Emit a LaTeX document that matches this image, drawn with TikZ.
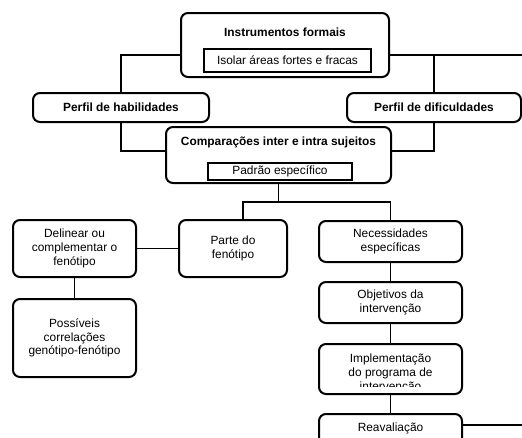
\documentclass[tikz,border=0pt]{standalone}
\usepackage{fontspec}
\setmainfont{Liberation Sans}
\begin{document}
\begin{tikzpicture}[x=1pt,y=-1pt,
  txt/.style={inner sep=0pt, align=center, font=\fontsize{11.9}{13.8}\selectfont},
  rbox/.style={txt, draw, line width=2pt, rounded corners=7pt},
  sbox/.style={txt, draw, line width=2pt},
  bt/.style={txt, font=\fontsize{11.9}{13.8}\selectfont\bfseries},
  conn/.style={line width=1.9pt}
]
\useasboundingbox (0,0) rectangle (522,437);
\clip (0,0) rectangle (522,437);

% top block
\node[rbox, minimum width=208pt, minimum height=64pt] (instr) at (285,45) {};
\node[bt] (instrT) at (285,32) {Instrumentos formais};
\node[sbox, minimum width=167pt, minimum height=23pt] (isolar) at (287.5,60.5) {Isolar áreas fortes e fracas};

\node[rbox, bt, draw, minimum width=176pt, minimum height=29pt] (hab) at (121,107.5) {Perfil de habilidades};
\node[rbox, bt, draw, minimum width=174pt, minimum height=29pt] (dif) at (434,107.5) {Perfil de dificuldades};

\node[rbox, minimum width=225pt, minimum height=56pt] (comp) at (278.5,155) {};
\node[bt] (compT) at (278.5,142) {Comparações inter e intra sujeitos};
\node[sbox, minimum width=144pt, minimum height=17pt] (padrao) at (280,171.5) {Padrão específico};

% lower left
\node[rbox, minimum width=108pt, minimum height=57pt] (parte) at (233,248.5) {Parte do\\fenótipo};
\node[rbox, minimum width=123pt, minimum height=57pt] (delin) at (74.5,248.5) {Delinear ou\\complementar o\\fenótipo};
\node[rbox, minimum width=123pt, minimum height=78pt] (poss) at (74.5,338) {Possíveis\\correlações\\genótipo-fenótipo};

% lower right
\node[rbox, minimum width=143pt, minimum height=41pt] (nec) at (390.5,241.5) {Necessidades\\específicas};
\node[rbox, minimum width=143pt, minimum height=41pt] (obj) at (390.5,302.5) {Objetivos da\\intervenção};
\node[rbox, minimum width=143pt, minimum height=50pt] (impl) at (390.5,369) {};
\begin{scope}
  \clip (320,345) rectangle (461,386.5);
  \node[txt] (implT) at (390.5,373.5) {Implementação\\do programa de\\intervenção};
\end{scope}
\node[rbox, minimum width=143pt, minimum height=52pt] (reav) at (390.5,440) {};
\node[txt] (reavT) at (390.5,428) {Reavaliação};

% connectors
\coordinate (rEnd) at (522,55);
\coordinate (j) at (278,203);
\coordinate (rEnd2) at (522,425);
\draw[conn] ([yshift=-10pt]instr.west) -| (hab.north);
\draw[conn] ([yshift=-10pt]instr.east) -- (rEnd);
\draw[conn] (dif.north) -- (dif.north |- rEnd);
\draw[conn] (hab.south) |- ([yshift=4pt]comp.west);
\draw[conn] (dif.south) |- ([yshift=4pt]comp.east);
\draw[conn] (comp.south) -- (comp.south |- j);
\draw[conn] ([xshift=10pt]parte.north) -- ++(0,-17) -| (nec.north);
\draw[conn] (delin.east) -- (parte.west);
\draw[conn] (delin.south) -- (poss.north);
\draw[conn] (nec.south) -- (obj.north);
\draw[conn] (obj.south) -- (impl.north);
\draw[conn] (impl.south) -- (reav.north);
\draw[conn] ([yshift=15pt]reav.east) -- (rEnd2);
\end{tikzpicture}
\end{document}
